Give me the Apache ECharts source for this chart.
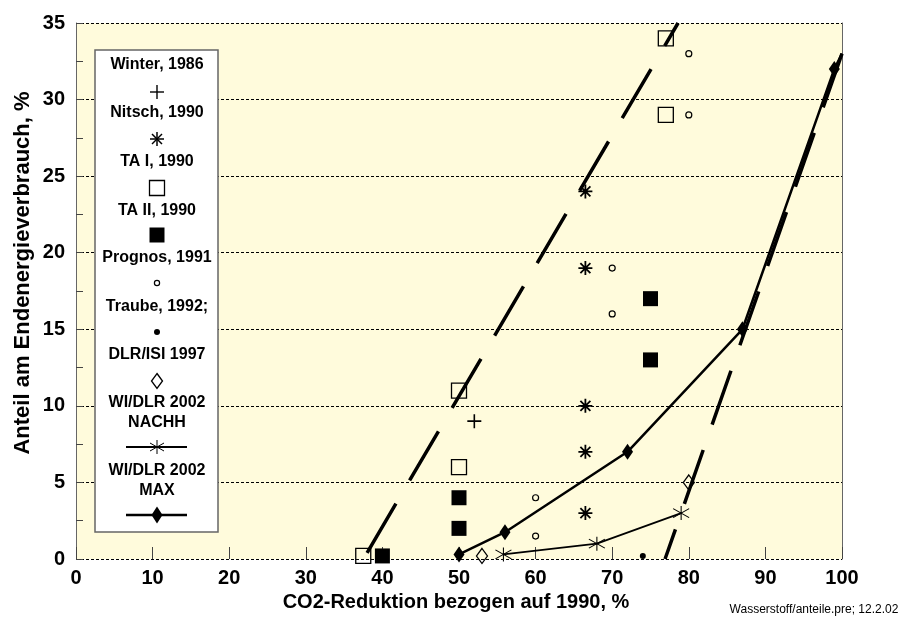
<!DOCTYPE html>
<html>
<head>
<meta charset="utf-8">
<script src="https://cdn.jsdelivr.net/npm/echarts@6/dist/echarts.min.js"></script>
<style>
html,body{margin:0;padding:0;background:#fff;}
#chart{width:898px;height:617px;}
</style>
</head>
<body>
<div id="chart"></div>
<script>
// ---- data ----
const winter = [[52, 9]];
const nitsch = [[66.5, 24], [66.5, 19], [66.5, 10], [66.5, 7], [66.5, 3]];
const taI = [[37.5, 0.2], [50, 6], [50, 11], [77, 29], [77, 34]];
const taII = [[40, 0.2], [50, 2], [50, 4], [75, 13], [75, 17]];
const prognos = [[60, 1.5], [60, 4], [70, 16], [70, 19], [80, 29], [80, 33]];
const traube = [[74, 0.2]];
const dlrIsi = [[53, 0.2], [80, 5]];
const nachh = [[55.8, 0.3], [68, 1], [79, 3]];
const maxLine = [[50, 0.3], [56, 1.75], [72, 7], [87, 15], [99, 32], [100, 33]];
const dashLow = [[38, 0.4], [78.6, 35]];
const dashHigh = [[100, 33], [76.9, 0]];

const legendLabels = [
  ['Winter, 1986'], ['Nitsch, 1990'], ['TA I, 1990'], ['TA II, 1990'],
  ['Prognos, 1991'], ['Traube, 1992;'], ['DLR/ISI 1997'],
  ['WI/DLR 2002', 'NACHH'], ['WI/DLR 2002', 'MAX']
];
const xTitle = 'CO2-Reduktion bezogen auf 1990, %';
const yTitle = 'Anteil am Endenergieverbrauch, %';
const footnote = 'Wasserstoff/anteile.pre; 12.2.02';

const FONT = "'Liberation Sans', Arial, sans-serif";
const asteriskPath = 'path://M7,0L7,14M0,7L14,7M2,2L12,12M12,2L2,12';
const starPath = 'path://M8,0L8,14M0,2.5L16,11.5M0,11.5L16,2.5';
const plusPath = 'path://M6.2,0H7.8V6.2H14V7.8H7.8V14H6.2V7.8H0V6.2H6.2Z';

const chart = echarts.init(document.getElementById('chart'), null, {renderer: 'canvas'});

// legend graphics
const g = [];
const lx = 157;
g.push({type: 'rect', shape: {x: 95, y: 50, width: 123, height: 482},
  style: {fill: '#fff', stroke: '#666', lineWidth: 1.5}, z: 100});
const textYs = [[65], [113], [162], [211], [258], [307], [355], [403, 423], [471, 491]];
const symYs = [92, 139, 188, 235, 283, 332, 381, 447, 515];
legendLabels.forEach((lines, i) => {
  lines.forEach((t, j) => {
    g.push({type: 'text', x: lx, y: textYs[i][j], z: 101,
      style: {text: t, font: 'bold 16px ' + FONT, fill: '#000', textAlign: 'center', textVerticalAlign: 'middle'}});
  });
});
function sline(x1, y1, x2, y2, w) {
  g.push({type: 'line', z: 101, shape: {x1, y1, x2, y2}, style: {stroke: '#000', lineWidth: w}});
}
// +
sline(lx - 7, symYs[0], lx + 7, symYs[0], 1.4); sline(lx, symYs[0] - 7, lx, symYs[0] + 7, 1.4);
// asterisk
let y = symYs[1];
sline(lx - 7, y, lx + 7, y, 1.5); sline(lx, y - 7, lx, y + 7, 1.5);
sline(lx - 5, y - 5, lx + 5, y + 5, 1.5); sline(lx - 5, y + 5, lx + 5, y - 5, 1.5);
// open square
g.push({type: 'rect', z: 101, shape: {x: lx - 7.5, y: symYs[2] - 7.5, width: 15, height: 15}, style: {stroke: '#000', fill: '#fff', lineWidth: 1.3}});
// filled square
g.push({type: 'rect', z: 101, shape: {x: lx - 7.5, y: symYs[3] - 7.5, width: 15, height: 15}, style: {fill: '#000'}});
// open circle
g.push({type: 'circle', z: 101, shape: {cx: lx, cy: symYs[4], r: 2.6}, style: {stroke: '#000', fill: '#fff', lineWidth: 1.2}});
// filled dot
g.push({type: 'circle', z: 101, shape: {cx: lx, cy: symYs[5], r: 3}, style: {fill: '#000'}});
// open diamond
y = symYs[6];
g.push({type: 'polygon', z: 101, shape: {points: [[lx, y - 7.5], [lx + 5.5, y], [lx, y + 7.5], [lx - 5.5, y]]}, style: {stroke: '#000', fill: '#fff', lineWidth: 1.3}});
// NACHH line + star
y = symYs[7];
sline(lx - 31, y, lx + 30, y, 2);
sline(lx, y - 7, lx, y + 7, 1); sline(lx - 7, y - 4, lx + 7, y + 4, 1); sline(lx - 7, y + 4, lx + 7, y - 4, 1);
// MAX line + diamond
y = symYs[8];
sline(lx - 31, y, lx + 30, y, 2.5);
g.push({type: 'polygon', z: 101, shape: {points: [[lx, y - 8.5], [lx + 5.5, y], [lx, y + 8.5], [lx - 5.5, y]]}, style: {fill: '#000'}});

// titles
g.push({type: 'text', x: 456, y: 602, z: 101,
  style: {text: xTitle, font: 'bold 20px ' + FONT, fill: '#000', textAlign: 'center', textVerticalAlign: 'middle'}});
g.push({type: 'text', x: 23, y: 273, rotation: Math.PI / 2, z: 101,
  style: {text: yTitle, font: 'bold 22px ' + FONT, fill: '#000', textAlign: 'center', textVerticalAlign: 'middle'}});
g.push({type: 'text', x: 814, y: 610, z: 101,
  style: {text: footnote, font: '12px ' + FONT, fill: '#000', textAlign: 'center', textVerticalAlign: 'middle'}});

function scatter(data, symbol, size, style) {
  return {type: 'scatter', data, symbol, symbolSize: size, itemStyle: Object.assign({opacity: 1}, style), z: 5, silent: true};
}

const option = {
  animation: false,
  backgroundColor: '#fff',
  grid: {left: 76, right: 56, top: 23, bottom: 58, show: true, backgroundColor: '#FFFBDC', borderWidth: 0},
  xAxis: {
    type: 'value', min: 0, max: 100, interval: 10,
    axisLine: {show: false},
    axisTick: {show: true, inside: true, length: 12, lineStyle: {color: '#444', width: 1}},
    axisLabel: {fontFamily: FONT, fontWeight: 'bold', fontSize: 20, color: '#000', margin: 9},
    splitLine: {show: false}
  },
  yAxis: [{
    type: 'value', min: 0, max: 35, interval: 5,
    axisLine: {show: true, lineStyle: {color: '#666', width: 1}},
    axisTick: {show: true, inside: true, length: 7, lineStyle: {color: '#444'}},
    minorTick: {show: true, splitNumber: 2, length: 7, lineStyle: {color: '#444'}},
    axisLabel: {fontFamily: FONT, fontWeight: 'bold', fontSize: 20, color: '#000', margin: 11},
    splitLine: {show: true, lineStyle: {color: '#000', width: 1, type: [3, 2]}}
  }, {
    type: 'value', min: 0, max: 35, interval: 5, position: 'right',
    axisLine: {show: true, lineStyle: {color: '#666', width: 1}},
    axisTick: {show: false}, axisLabel: {show: false}, splitLine: {show: false}
  }],
  graphic: g,
  series: [
    {type: 'line', data: dashLow, symbol: 'none', silent: true, z: 3,
      lineStyle: {color: '#000', width: 3.5, type: [57, 27]}},
    {type: 'line', data: dashHigh, symbol: 'none', silent: true, z: 3,
      lineStyle: {color: '#000', width: 3.5, type: [57, 27]}},
    {type: 'line', data: nachh, symbol: starPath, symbolSize: [16, 14], silent: true, z: 4,
      lineStyle: {color: '#000', width: 1.8},
      itemStyle: {color: 'rgba(0,0,0,0)', borderColor: '#000', borderWidth: 1, opacity: 1}},
    {type: 'line', data: maxLine, symbol: 'diamond', silent: true, z: 4,
      symbolSize: (v, p) => p.dataIndex === maxLine.length - 1 ? 0 : [11, 16],
      lineStyle: {color: '#000', width: 2.5},
      itemStyle: {color: '#000', opacity: 1}},
    scatter(winter, plusPath, 14, {color: '#000'}),
    scatter(nitsch, asteriskPath, 14, {color: 'rgba(0,0,0,0)', borderColor: '#000', borderWidth: 1.8}),
    scatter(taI, 'rect', 15, {color: 'rgba(0,0,0,0)', borderColor: '#000', borderWidth: 1.3}),
    scatter(taII, 'rect', 15, {color: '#000'}),
    scatter(prognos, 'circle', 6, {color: 'rgba(0,0,0,0)', borderColor: '#000', borderWidth: 1.2}),
    scatter(traube, 'circle', 6, {color: '#000'}),
    scatter(dlrIsi, 'diamond', [11, 15], {color: 'rgba(0,0,0,0)', borderColor: '#000', borderWidth: 1.3})
  ]
};
chart.setOption(option);
</script>
</body>
</html>
